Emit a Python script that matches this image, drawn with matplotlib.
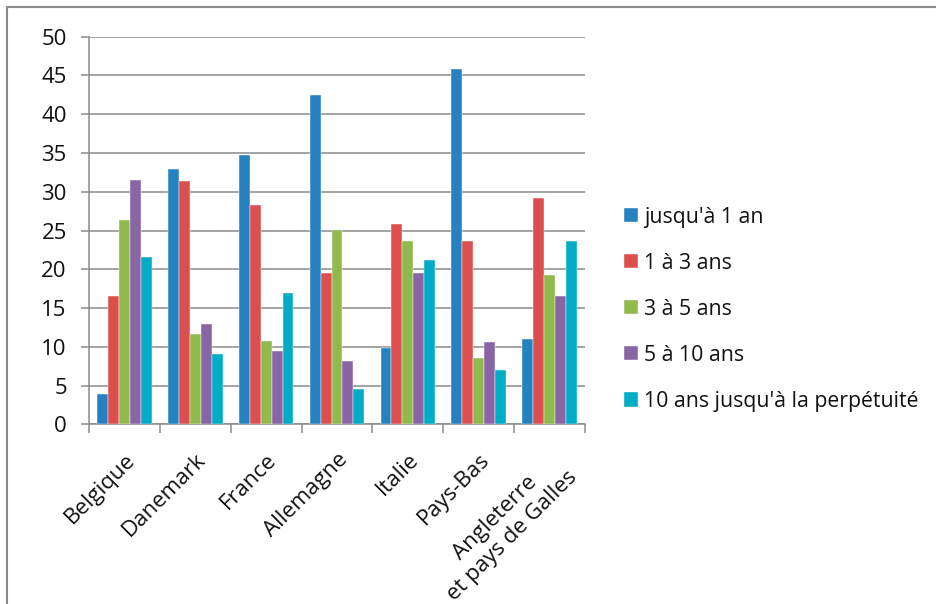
import matplotlib
matplotlib.use("Agg")
import matplotlib.pyplot as plt
from matplotlib.patches import Rectangle
import numpy as np

plt.rcParams['font.family'] = ['Open Sans', 'DejaVu Sans']

countries = ["Belgique", "Danemark", "France", "Allemagne", "Italie",
             "Pays-Bas", "Angleterre\net pays de Galles"]
durations = ["jusqu'à 1 an", "1 à 3 ans", "3 à 5 ans", "5 à 10 ans",
             "10 ans jusqu'à la perpétuité"]

upto_1 = [3.9, 32.9, 34.7, 42.5, 9.8, 45.9, 11.0]
y1_3 = [16.6, 31.4, 28.3, 19.5, 25.8, 23.6, 29.2]
y3_5 = [26.3, 11.7, 10.7, 25.1, 23.6, 8.6, 19.2]
y5_10 = [31.5, 12.9, 9.5, 8.2, 19.5, 10.6, 16.6]
y10_perp = [21.6, 9.1, 16.9, 4.6, 21.2, 7.0, 23.7]

series = [upto_1, y1_3, y3_5, y5_10, y10_perp]
colors = ['#2681C1', '#DD4F4F', '#90BA4E', '#8A65A6', '#00ACC6']


def main():
    fig = plt.figure(figsize=(9.36, 6.04), dpi=100)
    ax = fig.add_axes([0.0951, 0.2975, 0.5299, 0.6417])

    x = np.arange(len(countries))
    w = 0.154
    handles = []
    for i, (vals, col) in enumerate(zip(series, colors)):
        b = ax.bar(x + (i - 2) * w, vals, width=w, color=col,
                   edgecolor='white', linewidth=0.3, zorder=3)
        handles.append(b)

    ax.set_xlim(-0.5, len(countries) - 0.5)
    ax.set_ylim(0, 50)
    ax.set_yticks(range(0, 51, 5))
    ax.grid(axis='y', color='#8a8a8a', linewidth=1.1, zorder=0)

    for s in ['top', 'right']:
        ax.spines[s].set_visible(False)
    for s in ['left', 'bottom']:
        ax.spines[s].set_color('#8a8a8a')
        ax.spines[s].set_linewidth(1.1)

    ax.tick_params(axis='y', length=6, width=1.1, color='#8a8a8a',
                   labelsize=16, pad=10, labelcolor='#111111')
    # tick marks between categories, labels at category centres
    ax.set_xticks(np.arange(-0.5, len(countries)), minor=True)
    ax.tick_params(axis='x', which='minor', length=6.5, width=1.1,
                   color='#8a8a8a')
    ax.set_xticks(x)
    ax.set_xticklabels(countries, rotation=45, ha='right',
                       rotation_mode='anchor', fontsize=16, color='#111111')
    ax.tick_params(axis='x', which='major', length=0, pad=18)
    for lab in ax.get_xticklabels():
        lab.set_multialignment('center')

    ax.legend(handles, durations, loc='center left',
              bbox_to_anchor=(0.667, 0.488), bbox_transform=fig.transFigure,
              frameon=False, fontsize=15.3, borderpad=0, borderaxespad=0,
              handlelength=0.65, handleheight=0.65, handletextpad=0.3,
              labelspacing=1.18, labelcolor='#111111')

    # chart area outline (clipped at the right and bottom)
    fig.add_artist(Rectangle((7.5 / 936, -0.2), 1.2, 1.2 - 7 / 604,
                             transform=fig.transFigure, fill=False,
                             edgecolor='#8a8a8a', linewidth=1.5))

    fig.savefig("out.png", dpi=100)


if __name__ == "__main__":
    main()
